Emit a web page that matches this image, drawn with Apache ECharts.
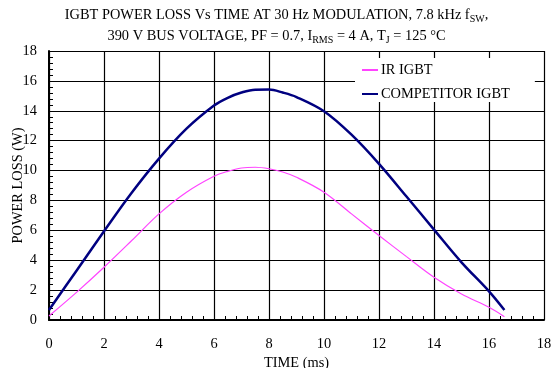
<!DOCTYPE html>
<html><head><meta charset="utf-8">
<script src="https://cdn.jsdelivr.net/npm/echarts@6/dist/echarts.min.js"></script>
<style>html,body{margin:0;padding:0;background:#fff}#c{width:553px;height:368px}</style>
</head><body><div id="c"></div>
<script>
var irTime = [0, 1, 2, 3, 4, 5, 6, 6.5, 7, 7.5, 8, 8.5, 9, 10, 11, 12, 13, 14, 15, 16, 16.56];
var irLoss = [0.27, 1.85, 3.53, 5.3, 7.1, 8.55, 9.62, 9.95, 10.17, 10.22, 10.12, 9.9, 9.55, 8.55, 7.1, 5.65, 4.24, 2.86, 1.74, 0.85, 0.22];
var compTime = [0, 1, 2, 3, 4, 5, 6, 6.5, 7, 7.5, 8, 8.5, 9, 10, 11, 12, 13, 14, 15, 16, 16.56];
var compLoss = [0.67, 3.3, 5.94, 8.5, 10.8, 12.8, 14.35, 14.87, 15.22, 15.41, 15.42, 15.22, 14.92, 13.97, 12.4, 10.45, 8.26, 6.05, 3.86, 1.92, 0.67];
var xTicks = [0, 2, 4, 6, 8, 10, 12, 14, 16, 18];
var yTicks = [0, 2, 4, 6, 8, 10, 12, 14, 16, 18];
var seriesNames = ['IR IGBT', 'COMPETITOR IGBT'];

function pairs(t, v) { return t.map(function (x, i) { return [x, v[i]]; }); }
var F = 'Liberation Serif';
var FS = 14.4;
var chart = echarts.init(document.getElementById('c'));
chart.setOption({
  animation: false,
  textStyle: { fontFamily: F, color: '#000' },
  title: {
    left: 'center', top: 1, padding: [4, 5, 4, 5],
    text: '{n|IGBT POWER LOSS Vs TIME AT 30 Hz MODULATION, 7.8 kHz f}{s|SW}{n|,}\n{n|390 V BUS VOLTAGE, PF = 0.7, I}{s|RMS}{n| = 4 A, T}{s|J}{n| = 125 °C}',
    textStyle: {
      fontFamily: F, fontWeight: 'normal', color: '#000', fontSize: FS,
      rich: {
        n: { fontFamily: F, fontSize: FS, color: '#000', lineHeight: 21 },
        s: { fontFamily: F, fontSize: 10, color: '#000', lineHeight: 21, padding: [7, 0, 0, 0] }
      }
    }
  },
  legend: {
    orient: 'vertical', left: 355, top: 58,
    backgroundColor: '#fff', padding: [4, 25, 0, 7], itemGap: 8,
    itemWidth: 16, itemHeight: 2,
    textStyle: { fontFamily: F, fontSize: FS, color: '#000', lineHeight: 16, padding: [0, 0, 0, -2] },
    data: [
      { name: seriesNames[0], icon: 'rect', itemStyle: { color: '#ff44ff' } },
      { name: seriesNames[1], icon: 'rect', itemStyle: { color: '#000080' } }
    ]
  },
  grid: { left: 49, right: 9, top: 51, bottom: 48, outerBoundsMode: 'none', containLabel: false },
  xAxis: {
    type: 'value', min: 0, max: 18, interval: 2,
    name: 'TIME (ms)', nameLocation: 'middle', nameGap: 34,
    nameTextStyle: { fontFamily: F, fontSize: FS, color: '#000' },
    axisLine: { show: true, lineStyle: { color: '#000', width: 2 } },
    axisTick: { show: false, inside: true },
    minorTick: { show: true, splitNumber: 5, length: 4, lineStyle: { color: '#000' } },
    axisLabel: { fontFamily: F, fontSize: FS, color: '#000', margin: 17,
      formatter: function (v) { return xTicks.indexOf(v) >= 0 ? String(v) : ''; } },
    splitLine: { show: true, lineStyle: { color: '#000', width: 1.2 } }
  },
  yAxis: {
    type: 'value', min: 0, max: 18, interval: 2,
    name: 'POWER LOSS (W)', nameLocation: 'middle', nameGap: 24, nameMoveOverlap: false,
    nameTextStyle: { fontFamily: F, fontSize: FS, color: '#000' },
    axisLine: { show: true, lineStyle: { color: '#000', width: 2 } },
    axisTick: { show: false, inside: true },
    minorTick: { show: true, splitNumber: 5, length: 4, lineStyle: { color: '#000' } },
    axisLabel: { fontFamily: F, fontSize: FS, color: '#000', margin: 12,
      formatter: function (v) { return yTicks.indexOf(v) >= 0 ? String(v) : ''; } },
    splitLine: { show: true, lineStyle: { color: '#000', width: 1.2 } }
  },
  series: [
    { name: seriesNames[0], type: 'line', smooth: 0.35, showSymbol: false, z: 3,
      data: pairs(irTime, irLoss), lineStyle: { color: '#ff44ff', width: 1.2 }, itemStyle: { color: '#ff44ff' } },
    { name: seriesNames[1], type: 'line', smooth: 0.35, showSymbol: false, z: 4,
      data: pairs(compTime, compLoss), lineStyle: { color: '#000080', width: 2.5 }, itemStyle: { color: '#000080' } }
  ]
});
</script></body></html>
